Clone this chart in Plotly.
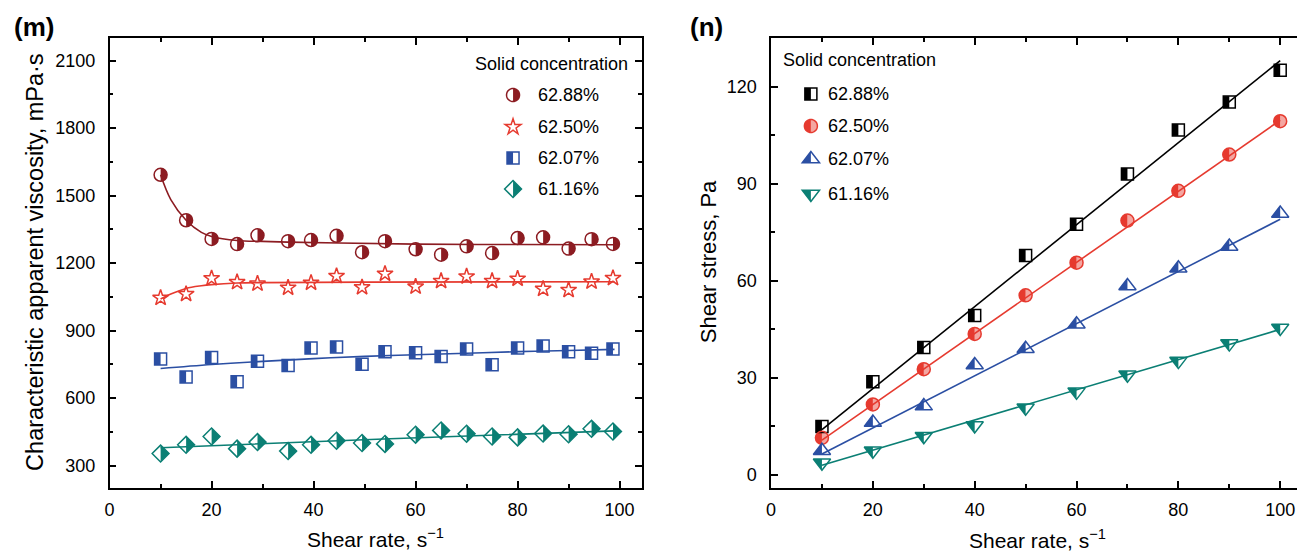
import math
import plotly.graph_objects as go

# ---------------- data: panel (m) ----------------
shear_rate_m = [10, 15, 20, 25, 29, 35, 39.5, 44.5, 49.5, 54, 60, 65, 70, 75, 80, 85, 90, 94.5, 98.7]
visc_6288 = [1592, 1390, 1307, 1284, 1323, 1297, 1302, 1321, 1248, 1297, 1261, 1237, 1274, 1244, 1311, 1314, 1264, 1306, 1285]
visc_6250 = [1045, 1062, 1132, 1115, 1108, 1090, 1112, 1142, 1092, 1152, 1095, 1120, 1140, 1120, 1130, 1085, 1080, 1117, 1133]
visc_6207 = [773, 693, 780, 672, 763, 745, 822, 827, 750, 806, 801, 784, 818, 748, 822, 831, 806, 799, 818]
visc_6116 = [353, 392, 429, 375, 404, 364, 392, 410, 400, 396, 437, 456, 441, 429, 425, 442, 439, 463, 451]

fit_m_6288_x = [10, 12, 15, 18, 20, 25, 30, 35, 45, 60, 80, 99]
fit_m_6288_y = [1592, 1482, 1390, 1336, 1318, 1300, 1296, 1293, 1289, 1284, 1282, 1281]
fit_m_6250_x = [10, 12, 15, 18, 20, 25, 30, 50, 99]
fit_m_6250_y = [1040, 1062, 1087, 1099, 1104, 1111, 1113, 1115, 1117]
fit_m_6207_x = [10, 20, 30, 40, 50, 60, 70, 80, 90, 99]
fit_m_6207_y = [731, 749, 763, 775, 785, 792, 799, 806, 811, 816]
fit_m_6116_x = [10, 55, 99]
fit_m_6116_y = [379, 419, 454]

# ---------------- data: panel (n) ----------------
shear_rate_n = [10, 20, 30, 40, 50, 60, 70, 80, 90, 100]
stress_6288 = [15.0, 28.8, 39.4, 49.3, 67.8, 77.5, 93.0, 106.6, 115.2, 125.0]
stress_6250 = [11.5, 21.8, 32.7, 43.6, 55.5, 65.6, 78.6, 87.8, 99.0, 109.3]
stress_6207 = [7.5, 16.2, 21.3, 34.0, 39.0, 46.6, 58.4, 63.9, 70.6, 80.8]
stress_6116 = [3.8, 7.5, 12.0, 15.3, 20.8, 25.7, 31.0, 35.2, 40.6, 45.4]

fit_n_x = [10, 100]
fit_n_6288 = [14.0, 128.0]
fit_n_6250 = [10.8, 109.6]
fit_n_6207 = [6.5, 79.0]
fit_n_6116 = [3.0, 45.0]

series_labels = ["62.88%", "62.50%", "62.07%", "61.16%"]
legend_title = "Solid concentration"

# ---------------- geometry / style ----------------
W, H = 1297, 553
FONT = "Liberation Sans, Arial, Helvetica, sans-serif"


def fx(px):
    return px / W


def fy(py):
    return 1 - py / H


def pts_path(pts):
    return "M " + " L ".join(f"{x:.2f},{y:.2f}" for x, y in pts) + " Z"


def outline_pts(kind, size):
    r = size / 2
    if kind == "circle":
        n = 36
        return [(r * math.cos(2 * math.pi * i / n), r * math.sin(2 * math.pi * i / n)) for i in range(n)]
    if kind == "square":
        return [(-r, -r), (r, -r), (r, r), (-r, r)]
    if kind == "diamond":
        d = 1.3 * r
        return [(0, d), (d, 0), (0, -d), (-d, 0)]
    if kind == "triangle-up":
        rt = 2 * r / math.sqrt(3)
        return [(-rt, -r / 2), (rt, -r / 2), (0, r)]
    if kind == "triangle-down":
        rt = 2 * r / math.sqrt(3)
        return [(-rt, r / 2), (rt, r / 2), (0, -r)]
    if kind == "star":
        rs = r * 1.4
        x1, x2, x3, x4 = rs * 0.225, rs * 0.951, rs * 0.363, rs * 0.588
        y1, y2, y3, y4, y5 = -rs, rs * -0.309, rs * 0.118, rs * 0.809, rs * 0.382
        svg = [(x1, y2), (x2, y2), (x3, y3), (x4, y4), (0, y5), (-x4, y4), (-x3, y3), (-x2, y2), (-x1, y2), (0, y1)]
        return [(a, -b) for a, b in svg]
    return []


def half_pts(kind, size, side):
    r = size / 2
    if kind == "circle":
        n = 18
        start = -90 if side == "right" else 90
        return [(r * math.cos(math.radians(start + 180 * i / n)), r * math.sin(math.radians(start + 180 * i / n))) for i in range(n + 1)]
    if kind == "square":
        return [(-r, -r), (0, -r), (0, r), (-r, r)] if side == "left" else [(0, -r), (r, -r), (r, r), (0, r)]
    if kind == "diamond":
        d = 1.3 * r
        return [(0, d), (-d, 0), (0, -d)] if side == "left" else [(0, d), (d, 0), (0, -d)]
    if kind == "triangle-up":
        rt = 2 * r / math.sqrt(3)
        return [(-rt, -r / 2), (0, -r / 2), (0, r)] if side == "left" else [(rt, -r / 2), (0, -r / 2), (0, r)]
    if kind == "triangle-down":
        rt = 2 * r / math.sqrt(3)
        return [(-rt, r / 2), (0, r / 2), (0, -r)] if side == "left" else [(rt, r / 2), (0, r / 2), (0, -r)]
    return []


C_DRED = "#8c1c22"
C_RED = "#e63a2f"
C_BLUE = "#2b4fa3"
C_TEAL = "#0b7f74"
C_BLACK = "#000000"

# style per series: (kind, size, color, fills[(side, color)])
style_m = [
    ("circle", 13, C_DRED, [("right", C_DRED)]),
    ("star", 12, C_RED, []),
    ("square", 12, C_BLUE, [("left", C_BLUE)]),
    ("diamond", 13, C_TEAL, [("right", C_TEAL)]),
]
style_n = [
    ("square", 12, C_BLACK, [("left", C_BLACK)]),
    ("circle", 13, C_RED, [("left", C_RED), ("right", "rgba(230,58,47,0.45)")]),
    ("triangle-up", 15, C_BLUE, [("left", C_BLUE)]),
    ("triangle-down", 15, C_TEAL, [("left", C_TEAL)]),
]

data_m = [visc_6288, visc_6250, visc_6207, visc_6116]
fits_m = [(fit_m_6288_x, fit_m_6288_y), (fit_m_6250_x, fit_m_6250_y),
          (fit_m_6207_x, fit_m_6207_y), (fit_m_6116_x, fit_m_6116_y)]
data_n = [stress_6288, stress_6250, stress_6207, stress_6116]
fits_n = [fit_n_6288, fit_n_6250, fit_n_6207, fit_n_6116]

fig = go.Figure()
shapes = []

# ---- panel (m) ----
for lab, ys, (fxs, fys), (kind, size, col, fills) in zip(series_labels, data_m, fits_m, style_m):
    fig.add_trace(go.Scatter(x=fxs, y=fys, mode="lines", line=dict(color=col, width=1.6, shape="spline"),
                             xaxis="x", yaxis="y", showlegend=False, hoverinfo="skip"))
    fig.add_trace(go.Scatter(x=shear_rate_m, y=ys, mode="markers", name=lab, xaxis="x", yaxis="y",
                             marker=dict(symbol=kind + "-open", size=size, color=col, line=dict(width=1.5, color=col)),
                             showlegend=False))
    for side, fc in fills:
        for xv, yv in zip(shear_rate_m, ys):
            shapes.append(dict(type="path", xref="x", yref="y", xsizemode="pixel", ysizemode="pixel",
                               xanchor=xv, yanchor=yv, path=pts_path(half_pts(kind, size, side)),
                               fillcolor=fc, line=dict(width=0), layer="below"))

# ---- panel (n) ----
for lab, ys, fys, (kind, size, col, fills) in zip(series_labels, data_n, fits_n, style_n):
    fig.add_trace(go.Scatter(x=fit_n_x, y=fys, mode="lines", line=dict(color=col, width=1.6),
                             xaxis="x2", yaxis="y2", showlegend=False, hoverinfo="skip"))
    fig.add_trace(go.Scatter(x=shear_rate_n, y=ys, mode="markers", name=lab, xaxis="x2", yaxis="y2",
                             marker=dict(symbol=kind + "-open", size=size, color=col, line=dict(width=1.5, color=col)),
                             showlegend=False))
    for side, fc in fills:
        for xv, yv in zip(shear_rate_n, ys):
            shapes.append(dict(type="path", xref="x2", yref="y2", xsizemode="pixel", ysizemode="pixel",
                               xanchor=xv, yanchor=yv, path=pts_path(half_pts(kind, size, side)),
                               fillcolor=fc, line=dict(width=0), layer="below"))

annotations = []


def legend(styles, title_x, title_anchor, title_y, mark_x, text_x, ys):
    annotations.append(dict(text=legend_title, xref="paper", yref="paper", x=fx(title_x), y=fy(title_y),
                            xanchor=title_anchor, yanchor="middle", showarrow=False,
                            font=dict(family=FONT, size=18, color="black")))
    for lab, (kind, size, col, fills), yy in zip(series_labels, styles, ys):
        for side, fc in fills:
            shapes.append(dict(type="path", xref="paper", yref="paper", xsizemode="pixel", ysizemode="pixel",
                               xanchor=fx(mark_x), yanchor=fy(yy), path=pts_path(half_pts(kind, size, side)),
                               fillcolor=fc, line=dict(width=0)))
        shapes.append(dict(type="path", xref="paper", yref="paper", xsizemode="pixel", ysizemode="pixel",
                           xanchor=fx(mark_x), yanchor=fy(yy), path=pts_path(outline_pts(kind, size)),
                           fillcolor="rgba(0,0,0,0)", line=dict(width=1.5, color=col)))
        annotations.append(dict(text=lab, xref="paper", yref="paper", x=fx(text_x), y=fy(yy),
                                xanchor="left", yanchor="middle", showarrow=False,
                                font=dict(family=FONT, size=18, color="black")))


legend(style_m, 549, "center", 64, 510, 533, [95, 127, 158, 189])
legend(style_n, 779, "left", 60, 809, 824, [94, 126, 159, 194])

# axis titles and panel labels
annotations += [
    dict(text="<b>(m)</b>", x=fx(29), y=fy(27), font=dict(size=26)),
    dict(text="<b>(n)</b>", x=fx(704), y=fy(27), font=dict(size=26)),
    dict(text="Characteristic apparent viscosity, mPa·s", x=fx(30), y=fy(262), textangle=-90, font=dict(size=23.5)),
    dict(text="Shear rate, s<sup>−1</sup>", x=fx(372), y=fy(538), font=dict(size=21)),
    dict(text="Shear stress, Pa", x=fx(706), y=fy(262), textangle=-90, font=dict(size=22)),
    dict(text="Shear rate, s<sup>−1</sup>", x=fx(1036), y=fy(539), font=dict(size=21)),
]
for a in annotations[-6:]:
    a.update(xref="paper", yref="paper", xanchor="center", yanchor="middle", showarrow=False)
    a["font"].update(family=FONT, color="black")


def axis(rng, dtick, mdtick, domain, mirror, anchor, standoff):
    return dict(range=rng, dtick=dtick, tick0=0, domain=domain, anchor=anchor,
                showline=True, linecolor="black", linewidth=1.5, mirror=mirror,
                ticks="inside", ticklen=7, tickwidth=1.5, tickcolor="black",
                showgrid=False, zeroline=False, ticklabelstandoff=standoff,
                tickfont=dict(family=FONT, size=18, color="black"),
                minor=dict(dtick=mdtick, ticks="inside", ticklen=4, tickwidth=1.5, tickcolor="black", showgrid=False))


ydom = [fy(488), fy(38)]
fig.update_layout(
    width=W, height=H, margin=dict(l=0, r=0, t=0, b=0),
    paper_bgcolor="white", plot_bgcolor="white", showlegend=False,
    xaxis=axis([0, 104.3], 20, 10, [fx(105), fx(639)], "allticks", "y", 5),
    yaxis=axis([200, 2200], 300, 150, ydom, "allticks", "x", 9),
    xaxis2=axis([0, 103.3], 20, 10, [fx(769), 1.0], "allticks", "y2", 5),
    yaxis2=axis([-4, 135], 30, 15, ydom, False, "x2", 9),
    shapes=shapes, annotations=annotations,
)

fig.write_html("out.html", config={"displayModeBar": False},
               post_script="document.body.style.margin='0px';document.body.style.overflow='hidden';")
